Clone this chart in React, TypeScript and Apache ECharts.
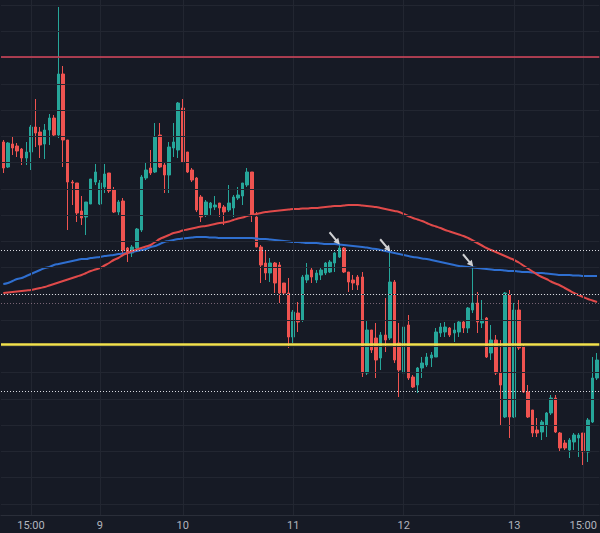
import React, { useEffect, useRef } from 'react';
import * as echarts from 'echarts';

// [open, close, low, high] — one hourly candle per entry
const candles: [number, number, number, number][] = [
  [858, 832, 827, 860], [833, 857, 832, 858], [856, 852, 845, 864], [854, 849, 843, 857], [851, 842, 835, 852],
  [842, 848, 835, 858], [848, 873, 830, 875], [873, 867, 853, 901], [868, 855, 842, 873], [856, 870, 841, 876],
  [870, 882, 855, 886], [882, 865, 863, 885], [865, 926, 862, 993], [926, 860, 833, 934], [860, 818, 770, 860],
  [818, 817, 795, 820], [817, 787, 778, 817], [789, 782, 775, 804], [783, 798, 765, 798], [796, 821, 796, 821],
  [818, 828, 815, 836], [796, 817, 795, 820], [813, 826, 807, 836], [827, 809, 807, 827], [810, 788, 787, 813],
  [788, 798, 785, 800], [799, 750, 747, 802], [752, 747, 738, 753], [747, 753, 743, 755], [752, 771, 748, 772],
  [770, 823, 768, 825], [822, 830, 820, 838], [832, 827, 825, 850], [828, 863, 827, 877], [865, 833, 832, 877],
  [835, 825, 807, 837], [825, 853, 807, 858], [852, 858, 843, 877], [850, 897, 842, 898], [892, 838, 837, 901],
  [848, 828, 827, 848], [830, 820, 818, 832], [822, 790, 788, 823], [803, 783, 778, 805], [785, 798, 783, 800],
  [792, 797, 785, 798], [793, 795, 790, 804], [797, 792, 783, 797], [793, 788, 775, 795], [790, 797, 788, 815],
  [792, 803, 783, 805], [802, 805, 800, 813], [804, 817, 795, 817], [815, 828, 813, 832], [828, 785, 778, 828],
  [783, 753, 753, 788], [753, 735, 717, 755], [737, 727, 720, 750], [727, 737, 718, 742], [737, 717, 707, 738],
  [735, 707, 697, 738], [717, 707, 705, 717], [707, 663, 652, 722], [663, 688, 657, 690], [687, 678, 668, 698],
  [680, 723, 678, 725], [720, 725, 717, 737], [730, 723, 717, 733], [720, 727, 717, 730], [725, 730, 720, 733],
  [727, 737, 725, 738], [728, 738, 727, 740], [737, 747, 728, 748], [743, 752, 742, 755], [752, 728, 727, 753],
  [728, 718, 708, 728], [720, 717, 710, 725], [723, 715, 710, 725], [723, 627, 623, 728], [627, 670, 625, 680],
  [670, 650, 647, 670], [662, 640, 622, 677], [642, 665, 630, 668], [665, 660, 648, 702], [662, 718, 660, 748],
  [718, 640, 637, 720], [657, 630, 603, 677], [627, 673, 623, 687], [675, 622, 620, 685], [623, 613, 612, 625],
  [615, 632, 607, 633], [632, 637, 622, 643], [635, 643, 633, 647], [642, 645, 633, 648], [643, 668, 643, 672],
  [667, 673, 663, 677], [668, 673, 663, 678], [672, 665, 663, 673], [667, 670, 658, 677], [668, 678, 663, 680],
  [678, 672, 667, 680], [672, 692, 667, 693], [690, 697, 687, 733], [697, 678, 667, 708], [677, 680, 672, 700],
  [682, 643, 642, 683], [647, 660, 640, 675], [660, 627, 625, 665], [627, 615, 575, 660], [583, 707, 582, 708],
  [705, 583, 562, 710], [583, 690, 582, 697], [690, 652, 650, 700], [653, 608, 607, 655], [608, 583, 582, 615],
  [590, 567, 563, 590], [570, 567, 563, 582], [568, 578, 560, 580], [575, 587, 563, 588], [587, 602, 585, 605],
  [602, 568, 567, 605], [567, 552, 548, 568], [557, 552, 550, 560], [550, 560, 542, 562], [558, 565, 550, 567],
  [562, 565, 543, 567], [567, 548, 535, 567], [548, 580, 538, 582], [578, 622, 577, 643], [622, 640, 620, 647],
];

const blueMA = [
  716, 717, 719, 721, 722, 724, 726, 728, 730, 732,
  733, 735, 736, 737, 738, 739, 740, 741, 741, 742,
  742.5, 743, 744, 744.5, 745, 746, 746.5, 747, 748, 749,
  750, 751, 753, 754, 756, 758, 759, 760, 761, 761.5,
  762, 762.5, 763, 763, 763, 762.5, 762.5, 762, 762, 762,
  762, 762, 762, 762, 762, 761.5, 761, 761, 760.5, 760,
  759.5, 759, 758.5, 758, 758, 757.5, 757, 757, 757, 756.5,
  756, 756, 756, 755.5, 755, 754.5, 754, 753.5, 753, 752.5,
  751.5, 751, 750, 749, 748, 747, 746, 745, 744, 743,
  742.5, 741.5, 741, 740, 739, 738, 737, 736, 735, 734,
  733.5, 733, 732.5, 732, 731.5, 731, 730.5, 730, 730, 729.5,
  729, 729, 728.5, 728, 728, 727.5, 727, 727, 726.5, 726,
  725.5, 725, 725, 725, 724.5, 724.5, 724, 724, 724, 724,
];

const redMA = [
  707, 707.5, 708, 708.5, 709, 709.5, 710, 711, 712, 713,
  714.5, 716, 717.5, 719, 720.5, 722, 723.5, 725, 727, 729,
  730.5, 732, 734.5, 737, 740, 742, 745, 747, 749, 750.5,
  752, 753.5, 755, 758, 761, 763, 765, 767, 768, 769.5,
  770.5, 771.5, 772.5, 773.5, 774, 775, 776, 777, 777.5, 778.5,
  780, 781.5, 782.5, 784, 785, 786, 787, 788, 788.5, 789,
  789.5, 790, 790.5, 791, 791, 791.5, 791.5, 792, 792, 792.5,
  793, 793.5, 794, 794, 794.5, 795, 795, 795, 794.5, 794,
  793.5, 793, 792, 791, 790, 789, 788, 786, 784, 782,
  780.5, 779, 777, 775, 773.5, 772, 770, 768.5, 767, 765.5,
  764, 762, 759.5, 757, 754.5, 752, 750, 748, 746, 744,
  742, 740, 737.5, 734.5, 731.5, 728.5, 725.5, 723, 721, 718.5,
  716.5, 714.5, 712, 709.5, 707, 705, 703, 701, 699.5, 698,
];

const tickIndex = [6, 21, 39, 63, 87, 111, 126];
const tickText = ['15:00', '9', '10', '11', '12', '13', '15:00'];
const gridLevels = [
  995, 968.75, 942.5, 916.25, 890, 863.75, 837.5, 811.25, 785, 758.75,
  732.5, 706.25, 680, 653.75, 627.5, 601.25, 575, 548.75, 522.5, 496.25,
];
const resistanceLevel = 943;
const supportLevel = 656;
const dottedLevels = [750, 706, 609];
const faintDottedLevels = [697];
const arrowCandles = [73, 84, 102];

const UP = '#26a69a';
const DOWN = '#ef5350';
const ARROW =
  'path://M1.90,0.21 L9.31,8.93 L11.28,7.23 L13,15 L5.54,12.21 L7.51,10.51 L0.10,1.79 Z';

export default function App() {
  const ref = useRef<HTMLDivElement>(null);
  useEffect(() => {
    if (!ref.current) return;
    const chart = echarts.init(ref.current, null, { renderer: 'svg' });
    const categories = candles.map((_, i) => String(i));
    const labelAt = new Map<number, string>(tickIndex.map((idx, k) => [idx, tickText[k]]));
    chart.setOption({
      animation: false,
      backgroundColor: '#161a25',
      grid: { left: 1, right: 0, top: 0, bottom: 18 },
      xAxis: {
        type: 'category',
        data: categories,
        boundaryGap: true,
        axisLine: { show: true, lineStyle: { color: '#2a2e39' } },
        axisTick: { show: false },
        splitLine: { show: false },
        axisLabel: {
          interval: 0,
          formatter: (_v: string, i: number) => labelAt.get(i) ?? '',
          color: '#b2b5be',
          fontSize: 11,
          fontFamily: 'Roboto, "Liberation Sans", sans-serif',
          margin: 5,
        },
      },
      yAxis: {
        type: 'value',
        min: 485,
        max: 1000,
        show: false,
        splitLine: { show: false },
      },
      series: [
        {
          type: 'line',
          data: [],
          silent: true,
          z: 1,
          markLine: {
            silent: true,
            symbol: 'none',
            label: { show: false },
            lineStyle: { color: '#222631', width: 1, type: 'solid' },
            data: [
              ...gridLevels.map((v) => ({ yAxis: v })),
              ...tickIndex.map((i) => ({ xAxis: i })),
            ],
          },
        },
        {
          type: 'candlestick',
          data: candles,
          barWidth: 3,
          z: 2,
          itemStyle: {
            color: UP,
            color0: DOWN,
            borderColor: UP,
            borderColor0: DOWN,
            borderWidth: 1,
          },
        },
        {
          type: 'line',
          data: blueMA,
          smooth: true,
          showSymbol: false,
          z: 3,
          lineStyle: { color: '#2f6fd0', width: 2 },
        },
        {
          type: 'line',
          data: redMA,
          smooth: true,
          showSymbol: false,
          z: 3,
          lineStyle: { color: '#e04a4a', width: 2 },
        },
        {
          type: 'line',
          data: [],
          silent: true,
          z: 4,
          markLine: {
            silent: true,
            symbol: 'none',
            label: { show: false },
            data: [
              { yAxis: resistanceLevel, lineStyle: { color: '#d9475c', width: 1.5, type: 'solid' } },
              { yAxis: supportLevel, lineStyle: { color: '#f2e14c', width: 2.5, type: 'solid' } },
              ...dottedLevels.map((v) => ({
                yAxis: v,
                lineStyle: { color: '#d8dae0', width: 1, type: [1, 2] },
              })),
              ...faintDottedLevels.map((v) => ({
                yAxis: v,
                lineStyle: { color: 'rgba(200,160,180,0.55)', width: 1, type: [1, 2] },
              })),
            ],
          },
        },
        {
          type: 'scatter',
          data: arrowCandles.map((i) => [i, candles[i][3]]),
          symbol: ARROW,
          symbolSize: [11, 13],
          symbolOffset: [-5, -7],
          itemStyle: { color: '#ffffff' },
          silent: true,
          z: 6,
        },
      ],
    });
    return () => chart.dispose();
  }, []);
  return (
    <div
      ref={ref}
      style={{ position: 'fixed', left: 0, top: 0, width: 600, height: 533 }}
    />
  );
}
